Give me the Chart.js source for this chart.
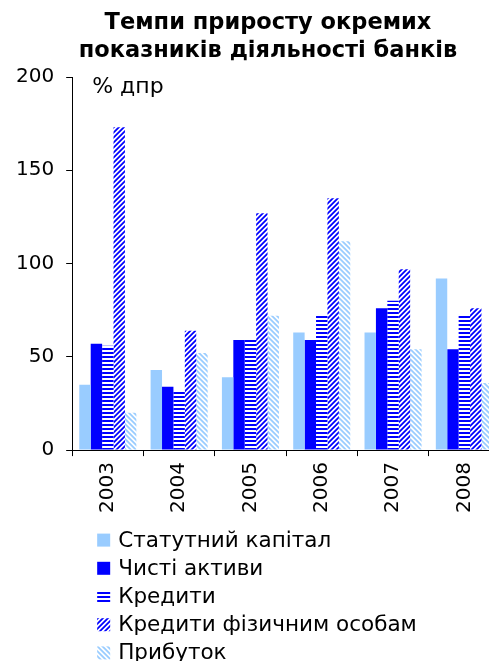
<!DOCTYPE html>
<html>
<head>
<meta charset="utf-8">
<script src="https://cdn.jsdelivr.net/npm/chart.js@4.4.1/dist/chart.umd.min.js"></script>
<style>
  html, body { margin: 0; padding: 0; background: #fff; overflow: hidden; }
  #chart { display: block; }
</style>
</head>
<body>
<canvas id="chart" width="500" height="661"></canvas>
<script>
// Growth rates, % year-over-year
const years = ["2003", "2004", "2005", "2006", "2007", "2008"];
const seriesNames = ["Статутний капітал", "Чисті активи", "Кредити", "Кредити фізичним особам", "Прибуток"];
const statutCapital = [35, 43, 39, 63, 63, 92];
const netAssets = [57, 34, 59, 59, 76, 54];
const loans = [56, 32, 60, 73, 80, 72];
const retailLoans = [173, 64, 127, 135, 97, 76];
const profit = [20, 52, 72, 112, 54, 36];
const yTicks = [0, 50, 100, 150, 200];

const titleLines = ["Темпи приросту окремих", "показників діяльності банків"];
const unitLabel = "% дпр";
const FONT = "'DejaVu Sans', Verdana, sans-serif";

// Builds a tiling stripe fill (antialiased by supersampling)
function stripePattern(rgb, dir, period) {
    const c = document.createElement("canvas");
    c.width = c.height = period;
    const g = c.getContext("2d");
    const img = g.createImageData(period, period);
    const n = 4;
    for (let y = 0; y < period; y++) {
        for (let x = 0; x < period; x++) {
            let hits = 0;
            for (let i = 0; i < n; i++) {
                for (let j = 0; j < n; j++) {
                    const u = x + (i + 0.5) / n, v = y + (j + 0.5) / n;
                    let t = dir === "h" ? v : dir === "/" ? u + v : u - v;
                    t = ((t % period) + period) % period;
                    if (t < period / 2) hits++;
                }
            }
            const a = hits / (n * n);
            const k = (y * period + x) * 4;
            img.data[k] = Math.round(255 + (rgb[0] - 255) * a);
            img.data[k + 1] = Math.round(255 + (rgb[1] - 255) * a);
            img.data[k + 2] = Math.round(255 + (rgb[2] - 255) * a);
            img.data[k + 3] = 255;
        }
    }
    g.putImageData(img, 0, 0);
    return g.createPattern(c, "repeat");
}

const ctx = document.getElementById("chart").getContext("2d");
const BLUE = [0, 0, 255];
const LIGHT = [153, 204, 255];

const fills = [
    "#99CCFF",
    "#0000FF",
    stripePattern(BLUE, "h", 4),
    stripePattern(BLUE, "/", 5),
    stripePattern(LIGHT, "\\", 5)
];
const seriesData = [statutCapital, netAssets, loans, retailLoans, profit];

// Title, unit caption and a vertical legend drawn on the canvas
const decorations = {
    id: "decorations",
    afterDraw(chart) {
        const c = chart.ctx;
        const area = chart.chartArea;
        c.save();
        c.fillStyle = "#000";
        c.textBaseline = "middle";

        c.font = "bold 22.5px " + FONT;
        c.textAlign = "center";
        titleLines.forEach((line, i) => c.fillText(line, 268, 23 + i * 28));

        c.font = "22px " + FONT;
        c.textAlign = "left";
        c.fillText(unitLabel, area.left + 20, 87);

        c.font = "21.5px " + FONT;
        chart.data.datasets.forEach((ds, i) => {
            const y = area.bottom + 90 + i * 28.2;
            const x = area.left + 25;
            c.fillStyle = ds.backgroundColor;
            c.fillRect(x, y - 6.5, 13, 13);
            c.fillStyle = "#000";
            c.fillText(ds.label, x + 21, y + 1);
        });
        c.restore();
    }
};

new Chart(ctx, {
    type: "bar",
    data: {
        labels: years,
        datasets: seriesNames.map((name, i) => ({
            label: name,
            data: seriesData[i],
            backgroundColor: fills[i],
            borderWidth: 0,
            categoryPercentage: 0.8,
            barPercentage: 1.0
        }))
    },
    options: {
        responsive: false,
        animation: false,
        devicePixelRatio: 1,
        layout: { padding: { top: 77, left: 4, right: 0, bottom: 142 } },
        plugins: {
            legend: { display: false },
            title: { display: false },
            tooltip: { enabled: false }
        },
        scales: {
            x: {
                grid: { display: true, drawOnChartArea: false, drawTicks: true, tickLength: 6, color: "#000", offset: true },
                border: { display: true, color: "#000", width: 1 },
                ticks: {
                    color: "#000",
                    font: { family: FONT, size: 20 },
                    minRotation: 90,
                    maxRotation: 90,
                    padding: 6
                }
            },
            y: {
                min: 0,
                max: 200,
                afterBuildTicks(axis) { axis.ticks = yTicks.map(v => ({ value: v })); },
                grid: { display: true, drawOnChartArea: false, drawTicks: true, tickLength: 6, color: "#000" },
                border: { display: true, color: "#000", width: 1 },
                ticks: {
                    color: "#000",
                    font: { family: FONT, size: 20 },
                    padding: 12
                }
            }
        }
    },
    plugins: [decorations]
});
</script>
</body>
</html>
